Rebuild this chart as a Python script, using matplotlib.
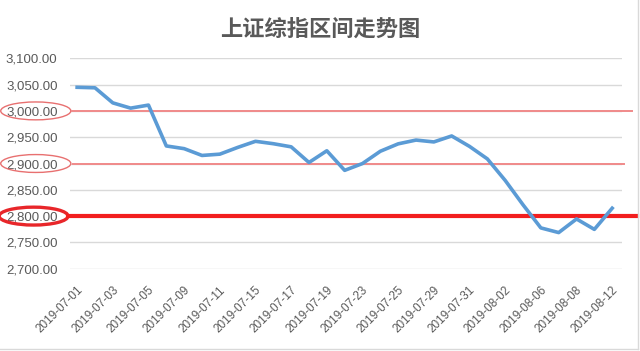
import matplotlib
matplotlib.use("Agg")
import numpy as np
import matplotlib.pyplot as plt
from matplotlib.patches import Ellipse
from matplotlib.lines import Line2D
import matplotlib.transforms as mtransforms

# SSE Composite closes, 2019-07-01 .. 2019-08-12 (trading days)
dates = ["2019-07-01", "2019-07-02", "2019-07-03", "2019-07-04", "2019-07-05",
         "2019-07-08", "2019-07-09", "2019-07-10", "2019-07-11", "2019-07-12",
         "2019-07-15", "2019-07-16", "2019-07-17", "2019-07-18", "2019-07-19",
         "2019-07-22", "2019-07-23", "2019-07-24", "2019-07-25", "2019-07-26",
         "2019-07-29", "2019-07-30", "2019-07-31", "2019-08-01", "2019-08-02",
         "2019-08-05", "2019-08-06", "2019-08-07", "2019-08-08", "2019-08-09",
         "2019-08-12"]
closes = [3044.90, 3043.94, 3015.26, 3005.25, 3011.06,
          2933.36, 2928.23, 2915.30, 2917.76, 2930.55,
          2942.19, 2937.62, 2931.69, 2901.95, 2924.20,
          2886.97, 2899.94, 2923.28, 2937.36, 2944.54,
          2941.01, 2952.34, 2932.51, 2908.77, 2867.84,
          2821.50, 2777.56, 2768.68, 2794.55, 2774.75,
          2814.99]
y_ticks = [2700, 2750, 2800, 2850, 2900, 2950, 3000, 3050, 3100]
thin_levels = [3000, 2900]
thick_level = 2800

title = "上证综指区间走势图"
grey = "#595959"

fig = plt.figure(figsize=(6.4, 3.51), dpi=100)
ax = fig.add_axes([70/640, 82.3/351, 552/640, 210.4/351])

x = np.arange(len(closes))
ax.plot(x, closes, color="#5B9BD5", lw=2.6, solid_joinstyle="round", zorder=5)

ax.set_ylim(2700, 3100)
ax.set_xlim(-0.4, len(closes) - 0.45)
ax.set_yticks(y_ticks)
ax.set_yticklabels([f"{v:,.2f}" for v in y_ticks], fontsize=9.5,
                   color=grey, family="Liberation Sans")
ax.grid(axis="y", color="#D9D9D9", lw=1.0)
ax.set_axisbelow(True)
for s in ax.spines.values():
    s.set_visible(False)
ax.tick_params(axis="y", length=0, pad=9)
ax.tick_params(axis="x", length=0, pad=11)

ax.set_xticks(x[::2])
ax.set_xticklabels(dates[::2], rotation=45, ha="right", va="top",
                   fontsize=8.5, color=grey, family="Liberation Sans")
offset = mtransforms.ScaledTranslation(8/100, 0, fig.dpi_scale_trans)
for lab in ax.get_xticklabels():
    lab.set_transform(lab.get_transform() + offset)

# highlight lines and ellipses around the level labels
blend = mtransforms.blended_transform_factory(ax.transAxes, ax.transData)
ax.plot([0.004, 1.018], [thin_levels[0]] * 2, transform=blend,
        color="#F08A8A", lw=1.4, clip_on=False, zorder=4)
ax.plot([0.005, 1.004], [thin_levels[1]] * 2, transform=blend,
        color="#F08A8A", lw=1.4, clip_on=False, zorder=4)
ax.plot([-0.004, 1.027], [thick_level] * 2, transform=blend,
        color="#F21E1E", lw=3.0, clip_on=False, zorder=4)

for lvl in thin_levels:
    ax.add_patch(Ellipse((-0.062, lvl), 0.127, 34, transform=blend,
                         fill=False, ec="#E87070", lw=1.0, clip_on=False))
ax.add_patch(Ellipse((-0.066, thick_level), 0.125, 34, transform=blend,
                     fill=False, ec="#E8262A", lw=2.4, clip_on=False))

fig.text(0.5, 0.918, title, ha="center", va="center", fontsize=16,
         fontweight="bold", color=grey, family=["Noto Sans CJK SC", "DejaVu Sans"])

# chart frame (right / bottom edges visible in the crop)
fig.add_artist(Line2D([0, 638/640], [2/351, 2/351], color="#D9D9D9", lw=1))
fig.add_artist(Line2D([638/640, 638/640], [2/351, 1], color="#D9D9D9", lw=1))

fig.savefig("out.png", dpi=100)
